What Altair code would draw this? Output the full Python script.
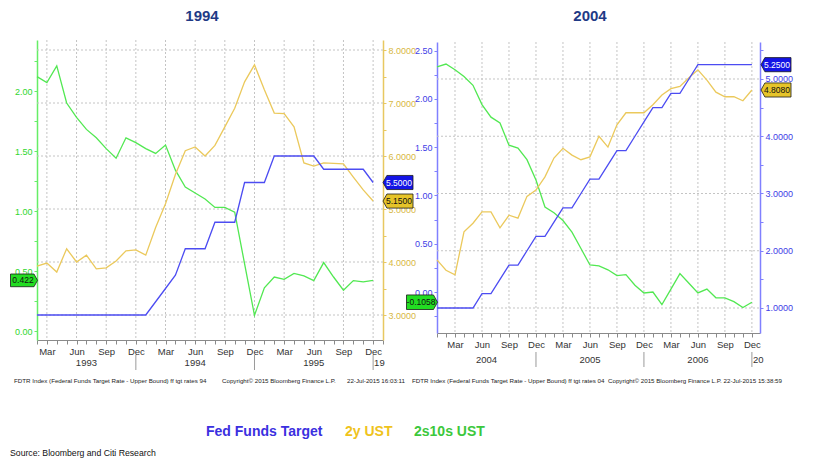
import altair as alt
import pandas as pd

# ------------------------------------------------------------------ data
# 1994 panel: month-end values, Feb-1993 .. Dec-1995 (index 0 = Feb-1993)
fed_94 = [3.00, 3.00, 3.00, 3.00, 3.00, 3.00, 3.00, 3.00, 3.00, 3.00, 3.00, 3.00,
          3.25, 3.50, 3.75, 4.25, 4.25, 4.25, 4.75, 4.75, 4.75, 5.50, 5.50, 5.50,
          6.00, 6.00, 6.00, 6.00, 6.00, 5.75, 5.75, 5.75, 5.75, 5.75, 5.50]
ust2_94 = [3.92, 3.98, 3.81, 4.25, 4.00, 4.13, 3.87, 3.89, 4.02, 4.21, 4.23, 4.13,
           4.65, 5.10, 5.65, 6.10, 6.17, 6.00, 6.20, 6.55, 6.90, 7.40, 7.72, 7.25,
           6.81, 6.80, 6.55, 5.87, 5.81, 5.87, 5.86, 5.85, 5.60, 5.36, 5.15]
s2s10_94 = [2.12, 2.07, 2.21, 1.90, 1.78, 1.68, 1.61, 1.52, 1.44, 1.61, 1.57, 1.52,
            1.48, 1.55, 1.34, 1.20, 1.15, 1.10, 1.03, 1.03, 0.99, 0.56, 0.13, 0.36,
            0.45, 0.43, 0.48, 0.46, 0.42, 0.57, 0.45, 0.34, 0.42, 0.41, 0.422]
start_94 = (1993, 2)

# 2004 panel: month-end values, Jan-2004 .. Dec-2006 (index 0 = Jan-2004)
fed_04 = [1.00, 1.00, 1.00, 1.00, 1.00, 1.25, 1.25, 1.50, 1.75, 1.75, 2.00, 2.25,
          2.25, 2.50, 2.75, 2.75, 3.00, 3.25, 3.25, 3.50, 3.75, 3.75, 4.00, 4.25,
          4.50, 4.50, 4.75, 4.75, 5.00, 5.25, 5.25, 5.25, 5.25, 5.25, 5.25, 5.25]
ust2_04 = [1.84, 1.66, 1.58, 2.33, 2.48, 2.68, 2.68, 2.40, 2.62, 2.57, 2.95, 3.06,
           3.29, 3.62, 3.79, 3.67, 3.59, 3.64, 4.00, 3.81, 4.20, 4.41, 4.41, 4.41,
           4.55, 4.72, 4.83, 4.87, 5.02, 5.16, 4.98, 4.77, 4.69, 4.69, 4.62, 4.808]
s2s10_04 = [2.33, 2.36, 2.30, 2.23, 2.14, 1.94, 1.81, 1.75, 1.52, 1.49, 1.37, 1.16,
            0.88, 0.82, 0.74, 0.62, 0.45, 0.28, 0.27, 0.23, 0.17, 0.18, 0.07, -0.01,
            0.00, -0.13, 0.03, 0.19, 0.09, -0.01, 0.03, -0.06, -0.06, -0.10, -0.16, -0.1058]
start_04 = (2004, 1)

month_names = ["Jan", "Feb", "Mar", "Apr", "May", "Jun", "Jul", "Aug", "Sep", "Oct", "Nov", "Dec"]

tag_text_94 = {"fed": "5.5000", "ust": "5.1500", "curve": "0.422"}
tag_text_04 = {"fed": "5.2500", "ust": "4.8080", "curve": "-0.1058"}

footer_94 = ["FDTR Index (Federal Funds Target Rate - Upper Bound) ff tgt rates 94",
             "Copyright\u00a9 2015 Bloomberg Finance L.P.", "22-Jul-2015 16:03:11"]
footer_04 = ["FDTR Index (Federal Funds Target Rate - Upper Bound) ff tgt rates 04",
             "Copyright\u00a9 2015 Bloomberg Finance L.P.", "22-Jul-2015 15:38:59"]
legend_items = ["Fed Funds Target", "2y UST", "2s10s UST"]
source_text = "Source: Bloomberg and Citi Research"

# ------------------------------------------------------------------ style
C_BLUE = "#4c4cf2"
C_GOLD = "#ebc95c"
C_GREEN = "#52e852"
SANS = "Liberation Sans, Arial, sans-serif"
W, H = 804, 453


def gx(x):  # page x -> group x
    return x - 8


def gy(y):
    return y - 8


# panel geometry (page coordinates converted)
P94 = dict(x0=gx(37), x1=gx(383), y0=gy(40), y1=gy(340))
P04 = dict(x0=gx(437), x1=gx(760), y0=gy(42), y1=gy(333))


def sc(domain, rng):
    return alt.Scale(domain=domain, range=rng, nice=False, zero=False)


xs94 = sc([0, 35], [P94["x0"], P94["x1"]])
yl94 = sc([-0.075, 2.425], [P94["y1"], P94["y0"]])
yr94 = sc([2.5283, 8.1887], [P94["y1"], P94["y0"]])
xs04 = sc([0, 35.9], [P04["x0"], P04["x1"]])
yl04 = sc([-0.4244, 2.588], [P04["y1"], P04["y0"]])
yr04 = sc([0.5633, 5.646], [P04["y1"], P04["y0"]])


def frame(vals):
    return pd.DataFrame({"i": list(range(len(vals))), "v": vals})


def month_of(start, i):
    return (start[1] - 1 + i) % 12


def year_of(start, i):
    return start[0] + (start[1] - 1 + i) // 12


layers = []


def axis_x(offset, start_month0):
    expr = ("(datum.value + %d) %% 3 == 2 ? %s[(datum.value + %d) %% 12] : ''"
            % (start_month0, str(month_names).replace("'", "\""), start_month0))
    return alt.Axis(orient="bottom", offset=offset, grid=False, title=None,
                    values=list(range(0, 36)), labelExpr=expr, labelOverlap=False,
                    labelFlush=False, tickSize=4, labelPadding=2, labelFont=SANS,
                    labelFontSize=9.5, labelColor="#333333", domainColor="#8a8a8a",
                    tickColor="#8a8a8a")


def axis_y(orient, offset, values, step_label, fmt, color, label_color):
    expr = ("abs(datum.value / %s - round(datum.value / %s)) < 0.001 ? format(datum.value, '%s') : ''"
            % (step_label, step_label, fmt))
    return alt.Axis(orient=orient, offset=offset, grid=False, title=None, values=values,
                    labelExpr=expr, labelOverlap=False, labelFlush=False, tickSize=3,
                    labelPadding=2, labelFont=SANS, labelFontSize=9,
                    labelColor=label_color, domainColor=color, tickColor=color,
                    domainWidth=1.5)


def grid_layers(P, xs, ys, qidx, hvals):
    v = alt.Chart(pd.DataFrame({"i": qidx})).mark_rule(
        color="#c4c4c4", strokeDash=[2, 2], strokeWidth=1).encode(
        x=alt.X("i:Q", scale=xs, axis=None), y=alt.value(P["y0"]), y2=alt.value(P["y1"]))
    h = alt.Chart(pd.DataFrame({"v": hvals})).mark_rule(
        color="#c4c4c4", strokeDash=[2, 2], strokeWidth=1).encode(
        y=alt.Y("v:Q", scale=ys, axis=None), x=alt.value(P["x0"]), x2=alt.value(P["x1"]))
    return [v, h]


def line(vals, xs, ys, color, xaxis=None, yaxis=None):
    return alt.Chart(frame(vals)).mark_line(color=color, strokeWidth=1.3).encode(
        x=alt.X("i:Q", scale=xs, axis=xaxis), y=alt.Y("v:Q", scale=ys, axis=yaxis))


PATH_R = "M-1,-0.47 L0.74,-0.47 L1,0 L0.74,0.47 L-1,0.47 Z"   # points right
PATH_L = "M-1,0 L-0.74,-0.47 L1,-0.47 L1,0.47 L-0.74,0.47 Z"  # points left


def tag(value, text, ys, xc, fill, tcolor, path, width, dx=0):
    df = pd.DataFrame({"v": [value], "t": [text]})
    base = alt.Chart(df).encode(y=alt.Y("v:Q", scale=ys, axis=None), x=alt.value(xc))
    p = base.mark_point(shape=path, size=width * width, filled=True, fill=fill,
                        stroke="#1a1a1a", strokeWidth=0.8, opacity=1)
    t = base.mark_text(font=SANS, fontSize=8.5, color=tcolor, align="center",
                       baseline="middle", dx=dx).encode(text="t:N")
    return [p, t]


def year_layers(start, n, xs, y_lab, sep_y0, sep_y1):
    years = sorted(set(year_of(start, i) for i in range(n)))
    bounds = [i for i in range(n) if month_of(start, i) == 11]
    labs, pos = [], []
    for yr in years:
        idx = [i for i in range(n) if year_of(start, i) == yr]
        lo = max(0, idx[0] - 1)
        pos.append((lo + idx[-1]) / 2)
        labs.append(str(yr))
    txt = alt.Chart(pd.DataFrame({"i": pos, "t": labs})).mark_text(
        font=SANS, fontSize=9.5, color="#333333", baseline="middle").encode(
        x=alt.X("i:Q", scale=xs, axis=None), y=alt.value(y_lab), text="t:N")
    nxt = alt.Chart(pd.DataFrame({"i": [bounds[-1]], "t": [str(years[-1] + 1)[:2]]})).mark_text(
        font=SANS, fontSize=9.5, color="#333333", baseline="middle", align="left", dx=1).encode(
        x=alt.X("i:Q", scale=xs, axis=None), y=alt.value(y_lab), text="t:N")
    sep = alt.Chart(pd.DataFrame({"i": bounds})).mark_rule(color="#9a9a9a", strokeWidth=1).encode(
        x=alt.X("i:Q", scale=xs, axis=None), y=alt.value(sep_y0), y2=alt.value(sep_y1))
    return [sep, txt, nxt]


def static_text(text, x, y, color, size, font, weight="normal", align="left"):
    return alt.Chart(pd.DataFrame({"t": [text]})).mark_text(
        font=font, fontSize=size, fontWeight=weight, color=color, align=align,
        baseline="middle").encode(x=alt.value(x), y=alt.value(y), text="t:N")


# ------------------------------------------------------------------ 1994 panel
layers += grid_layers(P94, xs94, yr94,
                      [i for i in range(35) if month_of(start_94, i) % 3 == 2],
                      [3, 4, 5, 6, 7, 8])
layers.append(line(s2s10_94, xs94, yl94, C_GREEN,
                   xaxis=axis_x(P94["y1"] - H, start_94[1] - 1),
                   yaxis=axis_y("left", -P94["x0"], [i * 0.25 for i in range(10)], "0.5",
                                ".2f", "#66ee66", "#2fd62f")))
layers.append(line(ust2_94, xs94, yr94, C_GOLD,
                   yaxis=axis_y("right", P94["x1"] - W, [3 + i * 0.5 for i in range(11)], "1",
                                ".4f", "#e8c860", "#d8b844")))
layers.append(line(fed_94, xs94, yr94, C_BLUE))
layers += year_layers(start_94, 35, xs94, gy(363), gy(355), gy(370))
layers += tag(s2s10_94[-1], tag_text_94["curve"], yl94, P94["x0"] - 13, "#22dd22", "#111111", PATH_R, 27, -1)
layers += tag(fed_94[-1], tag_text_94["fed"], yr94, P94["x1"] + 15, "#1414e6", "#ffffff", PATH_L, 30, 1)
layers += tag(ust2_94[-1], tag_text_94["ust"], yr94, P94["x1"] + 15, "#e6c42a", "#111111", PATH_L, 30, 1)

# ------------------------------------------------------------------ 2004 panel
layers += grid_layers(P04, xs04, yr04,
                      [i for i in range(36) if month_of(start_04, i) % 3 == 2],
                      [1, 2, 3, 4, 5])
layers.append(line(s2s10_04, xs04, yl04, C_GREEN,
                   xaxis=axis_x(P04["y1"] - H, start_04[1] - 1),
                   yaxis=axis_y("left", -P04["x0"], [-0.25 + i * 0.25 for i in range(12)], "0.5",
                                ".2f", "#8080ff", "#4040e6")))
layers.append(line(ust2_04, xs04, yr04, C_GOLD,
                   yaxis=axis_y("right", P04["x1"] - W, [1 + i * 0.5 for i in range(10)], "1",
                                ".4f", "#8080ff", "#4040e6")))
layers.append(line(fed_04, xs04, yr04, C_BLUE))
layers += year_layers(start_04, 36, xs04, gy(360), gy(352), gy(367))
layers += tag(s2s10_04[-1], tag_text_04["curve"], yl04, P04["x0"] - 15, "#22dd22", "#111111", PATH_R, 31, -1)
layers += tag(fed_04[-1], tag_text_04["fed"], yr04, P04["x1"] + 16, "#1414e6", "#ffffff", PATH_L, 30, 1)
layers += tag(ust2_04[-1], tag_text_04["ust"], yr04, P04["x1"] + 16, "#e6c42a", "#111111", PATH_L, 30, 1)

# ------------------------------------------------------------------ texts
TITLE_C = "#1f3a86"
layers.append(static_text("1994", gx(202), gy(16), TITLE_C, 15, SANS, "bold", "center"))
layers.append(static_text("2004", gx(590), gy(16), TITLE_C, 15, SANS, "bold", "center"))
for txt, xp, al in zip(footer_94, [14, 222, 405], ["left", "left", "right"]):
    layers.append(static_text(txt, gx(xp), gy(381), "#222222", 6.2, SANS, align=al))
for txt, xp, al in zip(footer_04, [412, 608, 782], ["left", "left", "right"]):
    layers.append(static_text(txt, gx(xp), gy(381), "#222222", 6.2, SANS, align=al))
for txt, xp, col in zip(legend_items, [206, 345, 414], ["#3b30e0", "#efc31c", "#3cc83c"]):
    layers.append(static_text(txt, gx(xp), gy(432), col, 14, SANS, "bold"))
layers.append(static_text(source_text, gx(10), gy(453), "#111111", 8.7, SANS))

chart = alt.layer(*layers).resolve_scale(x="independent", y="independent").properties(
    width=W, height=H, padding=0, autosize=alt.AutoSizeParams(type="none"),
).configure_view(stroke=None)

chart.save("out.html", embed_options={"renderer": "svg", "actions": False})
